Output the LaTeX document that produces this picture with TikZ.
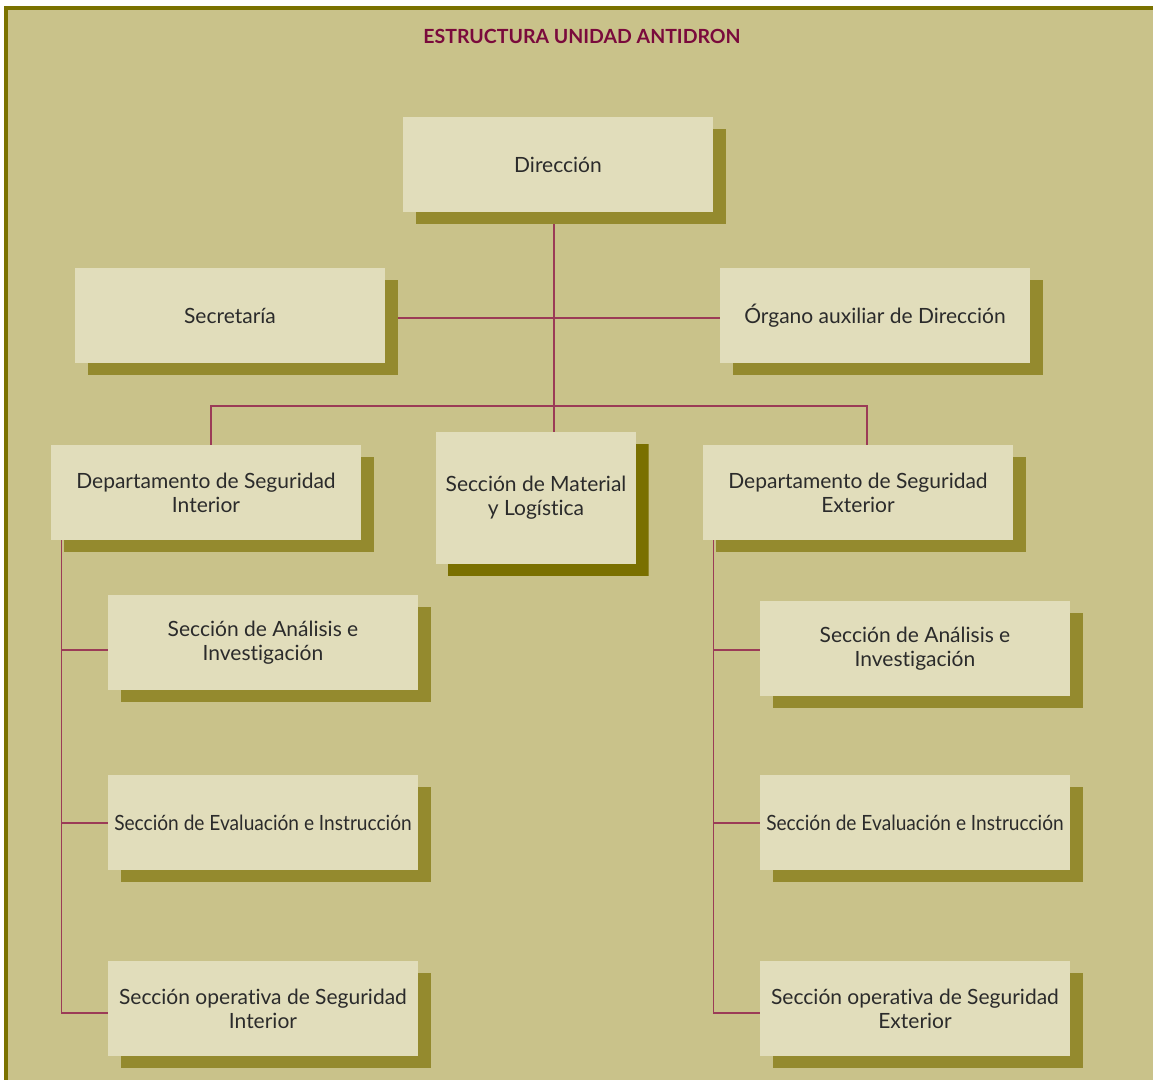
\documentclass[tikz,border=0pt]{standalone}
\usepackage{fontspec}
\setmainfont{Lato}[Ligatures=NoCommon]
\usetikzlibrary{shadows}
\definecolor{bgcol}{HTML}{C9C28A}
\definecolor{frontcol}{HTML}{E1DDBB}
\definecolor{shadcol}{HTML}{948A2E}
\definecolor{shadtwo}{HTML}{7A7000}
\definecolor{framecol}{HTML}{7A7200}
\definecolor{linecol}{HTML}{9B3B57}
\definecolor{titlecol}{HTML}{7A0A3C}
\definecolor{txtcol}{HTML}{2B2B2B}
\pgfdeclarelayer{bg}
\pgfdeclarelayer{back}
\pgfsetlayers{back,bg,main}
\tikzset{
  box/.style={fill=frontcol, minimum width=310pt, minimum height=95pt, inner sep=0pt,
    text=txtcol, align=center, font=\fontsize{21}{24}\selectfont,
    drop shadow={shadow xshift=13pt, shadow yshift=-12pt, fill=shadcol, opacity=1}},
  matbox/.style={box, minimum width=200pt, minimum height=132pt,
    drop shadow={shadow xshift=12pt, shadow yshift=-12pt, fill=shadtwo, opacity=1}},
  conn/.style={draw=linecol, line width=1.3pt},
}
\newcommand{\narrowtxt}[1]{\scalebox{0.91}[1]{#1}}
\begin{document}
\begin{tikzpicture}[x=1pt,y=-1pt]
\useasboundingbox (0,0) rectangle (1153,1080);
\begin{pgfonlayer}{back}
\fill[white] (0,0) rectangle (1153,1080);
\fill[bgcol] (4,6) rectangle (1153,1080);
\fill[framecol] (4,6) rectangle (1153,10);
\fill[framecol] (4,6) rectangle (8,1080);
\end{pgfonlayer}
\node[text=titlecol, font=\fontsize{19.5}{24}\bfseries] (title) at (582,36) {ESTRUCTURA UNIDAD ANTIDRON};

\node[box] (dir) at (558,164.5) {Dirección};
\node[box] (sec) at (230,315.5) {Secretaría};
\node[box] (org) at (875,315.5) {Órgano auxiliar de Dirección};
\node[box] (dint) at (206,492.5) {Departamento de Seguridad\\Interior};
\node[matbox] (mat) at (536,498) {Sección de Material\\y Logística};
\node[box] (dext) at (858,492.5) {Departamento de Seguridad\\Exterior};
\node[box] (la) at (263,642.5) {Sección de Análisis e\\Investigación};
\node[box] (le) at (263,822.5) {\narrowtxt{Sección de Evaluación e Instrucción}};
\node[box] (lo) at (263,1008.5) {Sección operativa de Seguridad\\Interior};
\node[box] (ra) at (915,648.5) {Sección de Análisis e\\Investigación};
\node[box] (re) at (915,822.5) {\narrowtxt{Sección de Evaluación e Instrucción}};
\node[box] (ro) at (915,1008.5) {Sección operativa de Seguridad\\Exterior};

\begin{pgfonlayer}{bg}
\coordinate (t1) at (554,224);
\coordinate (t2) at (554,432);
\coordinate (bus) at (554,406);
\draw[conn] (t1) -- (t2);
\draw[conn] ([xshift=12pt,yshift=-2.5pt]sec.east) -- ([yshift=-2.5pt]org.west);
\draw[conn] ([xshift=5pt]dint.north) |- (bus) -| ([xshift=9pt,yshift=-5pt]dext.north);
\coordinate (ls) at ([xshift=11pt]dint.south west);
\coordinate (la-in) at ([yshift=-7.5pt]la.west);
\coordinate (le-in) at ([yshift=-0.5pt]le.west);
\coordinate (lo-in) at ([yshift=-4.5pt]lo.west);
\draw[conn] (ls) |- (lo-in);
\draw[conn] (ls |- la-in) -- (la-in);
\draw[conn] (ls |- le-in) -- (le-in);
\coordinate (rs) at ([xshift=11pt]dext.south west);
\coordinate (ra-in) at ([yshift=-1.5pt]ra.west);
\coordinate (re-in) at ([yshift=-0.5pt]re.west);
\coordinate (ro-in) at ([yshift=-4.5pt]ro.west);
\draw[conn] (rs) |- (ro-in);
\draw[conn] (rs |- ra-in) -- (ra-in);
\draw[conn] (rs |- re-in) -- (re-in);
\end{pgfonlayer}
\end{tikzpicture}
\end{document}
